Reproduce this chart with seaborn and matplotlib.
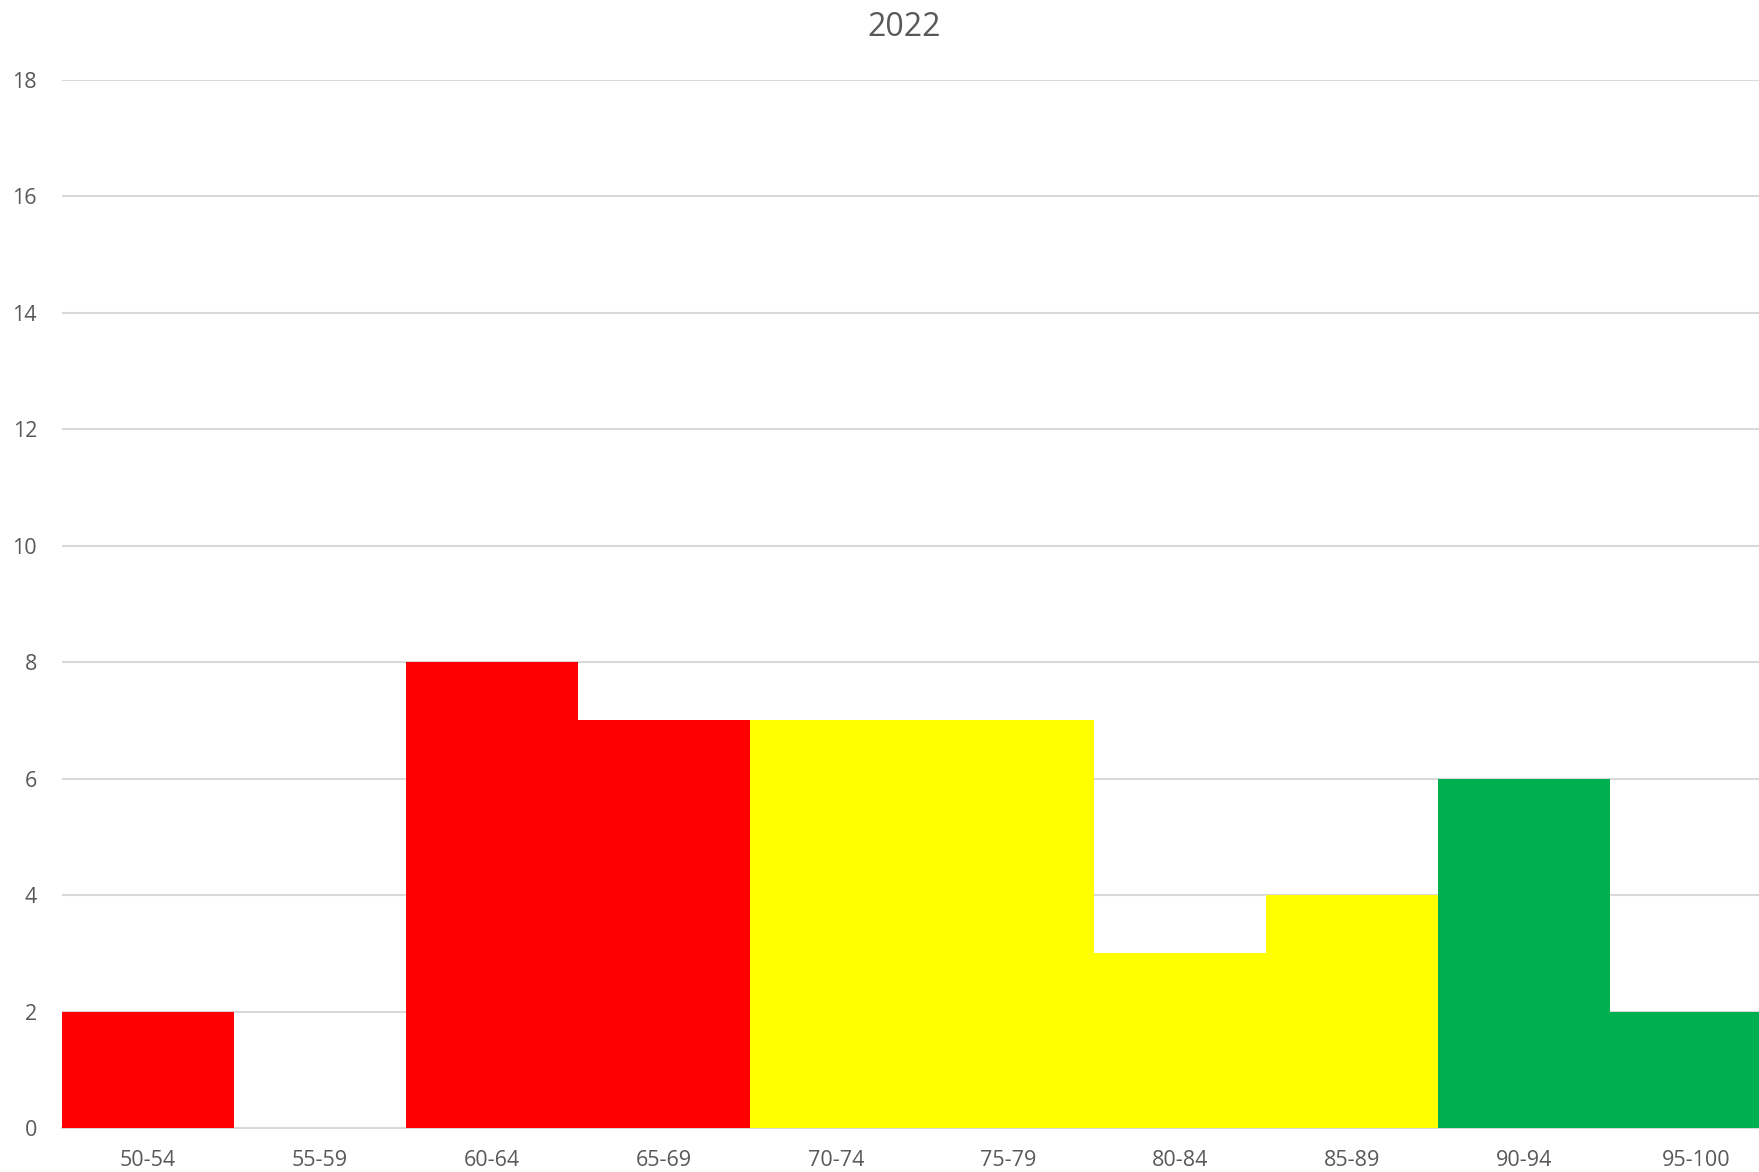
import matplotlib
matplotlib.use('Agg')
import matplotlib.pyplot as plt
import seaborn as sns
import pandas as pd

# Score bands and counts for 2022
bands = ['50-54', '55-59', '60-64', '65-69', '70-74', '75-79', '80-84', '85-89', '90-94', '95-100']
counts = [2, 0, 8, 7, 7, 7, 3, 4, 6, 2]
band_colors = ['#FF0000', '#FF0000', '#FF0000', '#FF0000',
               '#FFFF00', '#FFFF00', '#FFFF00', '#FFFF00',
               '#00B050', '#00B050']
y_ticks = [0, 2, 4, 6, 8, 10, 12, 14, 16, 18]

df = pd.DataFrame({'band': bands, 'count': counts})

sns.set_theme(style='white')
plt.rcParams['font.family'] = ['Open Sans', 'DejaVu Sans']

fig = plt.figure(figsize=(17.59, 11.72), dpi=100)
ax = fig.add_axes([62 / 1759, 1 - 1128 / 1172, 1720 / 1759, (1128 - 80) / 1172])

sns.barplot(data=df, x='band', y='count', hue='band', palette=band_colors,
            legend=False, width=1.0, saturation=1, linewidth=0, ax=ax, zorder=3)

ax.set_xlim(-0.5, len(bands) - 0.5)
ax.set_ylim(0, 18)
ax.set_yticks(y_ticks)
ax.yaxis.grid(True, color='#D9D9D9', linewidth=1.5, zorder=0)
ax.set_axisbelow(True)
for s in ['top', 'right', 'left']:
    ax.spines[s].set_visible(False)
ax.spines['bottom'].set_color('#D9D9D9')
ax.spines['bottom'].set_linewidth(1.5)
ax.tick_params(axis='both', length=0, labelsize=15.5, colors='#595959')
ax.tick_params(axis='y', pad=18)
ax.tick_params(axis='x', pad=16)
ax.set_xlabel('')
ax.set_ylabel('')

fig.text(904 / 1759, 1 - 27 / 1172, '2022', ha='center', va='center',
         fontsize=23, color='#595959')

fig.savefig('out.png', dpi=100)
